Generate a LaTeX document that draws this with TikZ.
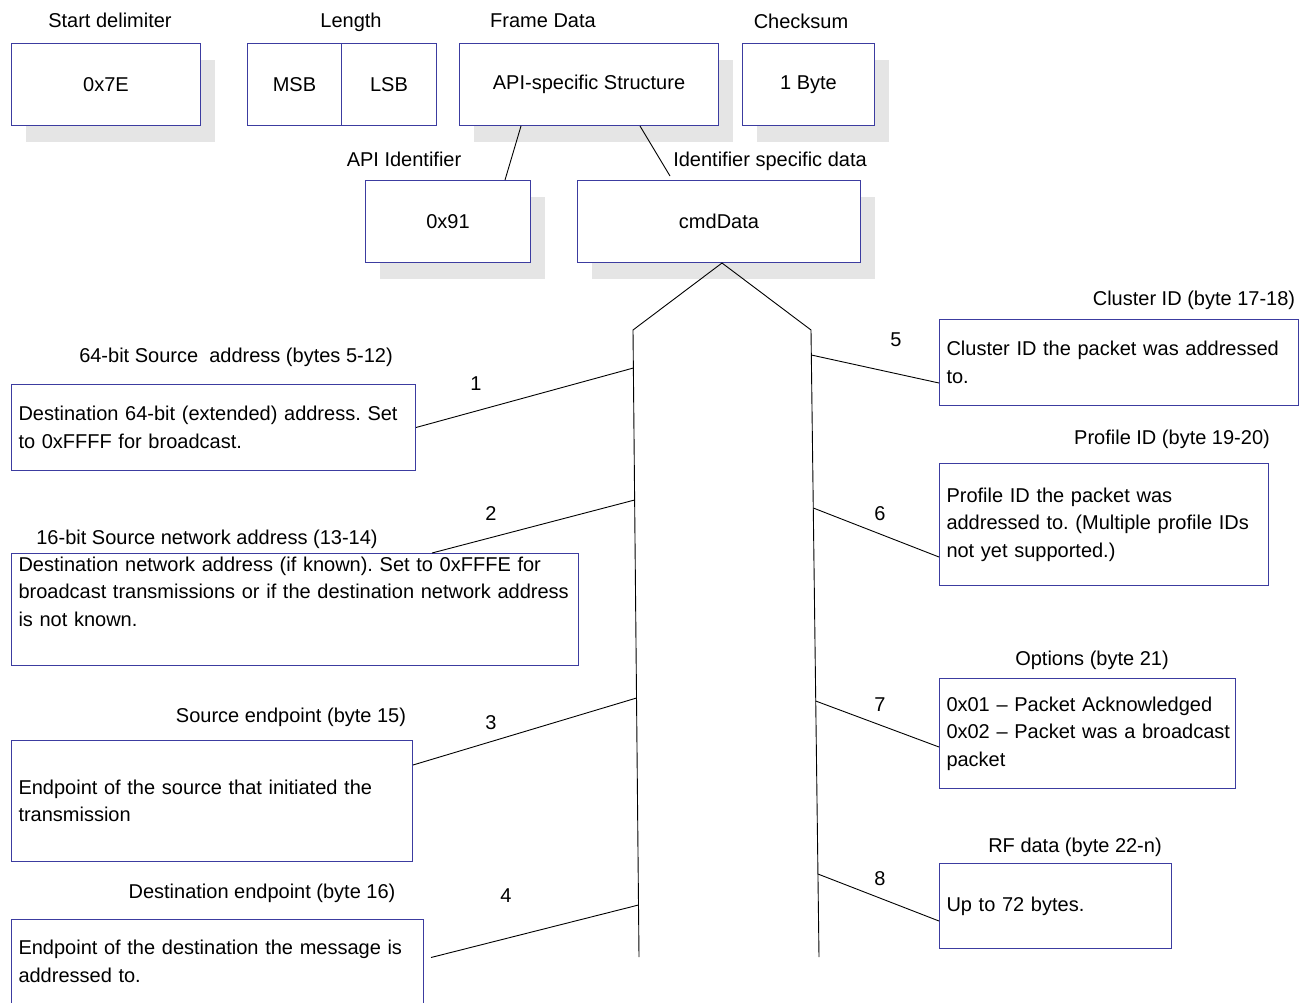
\documentclass[tikz,border=0pt]{standalone}
\usepackage{fontspec}
\setmainfont{Liberation Sans}
\usetikzlibrary{shadows, positioning}
\definecolor{cblue}{HTML}{3C3CA0}
\definecolor{cshade}{HTML}{E5E5E5}
\frenchspacing
\tikzset{
  every picture/.style={line width=1pt},
  field/.style={draw=cblue, fill=white, anchor=north west, minimum height=82pt, inner sep=0pt},
  shaded/.style={drop shadow={shadow xshift=14pt, shadow yshift=-16pt, fill=cshade, opacity=1}},
  desc/.style={draw=cblue, fill=white, anchor=north west, align=left, inner xsep=7pt, inner ysep=0pt},
  lbl/.style={anchor=base, inner sep=0pt},
  link/.style={draw=black, line width=0.9pt},
}
\begin{document}
\begin{tikzpicture}[x=1pt, y=-1pt, font=\fontsize{20}{27.5}\selectfont]
  \useasboundingbox (0,0) rectangle (1299,1002);
  \node[field, shaded, minimum width=189pt] (delim) at (11,43) {0x7E};
  \node[lbl] (delimlbl) at (110,27) {Start delimiter};
  \node[field, minimum width=94pt] (msb) at (247,43) {MSB};
  \node[field, minimum width=95pt] (lsb) at (341,43) {LSB};
  \node[lbl] (lenlbl) at (351,27) {Length};
  \node[field, shaded, minimum width=259pt] (frame) at (459,43) {API-specific Structure};
  \node[lbl] (framelbl) at (543,27) {Frame Data};
  \node[field, shaded, minimum width=132pt] (chk) at (742,43) {1 Byte};
  \node[lbl] (chklbl) at (801,28) {Checksum};
  \node[field, shaded, minimum width=165pt] (apiid) at (365,180) {0x91};
  \node[lbl] (apilbl) at (404,166) {API Identifier};
  \node[field, shaded, minimum width=283pt] (cmd) at (577,180) {cmdData};
  \node[lbl] (cmdlbl) at (770,166) {Identifier specific data};
  \draw[link] ([xshift=62pt]frame.south west) -- ([xshift=140pt]apiid.north west);
  \draw[link] ([xshift=181pt]frame.south west) -- ([xshift=93pt,yshift=4pt]cmd.north west);

  \coordinate (peak) at (722,263);
  \draw[link] (639,957) -- (633,330) -- (peak) -- (811,330) -- (819,957);
  \coordinate (s1) at (633.4,368);
  \coordinate (s2) at (634.6,500);
  \coordinate (s3) at (636.5,698);
  \coordinate (s4) at (638.5,905);
  \coordinate (s5) at (811.3,355);
  \coordinate (s6) at (813.3,508);
  \coordinate (s7) at (815.7,701);
  \coordinate (s8) at (817.9,874);

  \node[desc, text width=390pt, minimum height=86pt] (src64) at (11,384) {Destination 64-bit (extended) address. Set\\to 0xFFFF for broadcast.};
  \node[lbl] (src64lbl) at (236,362) {64-bit Source~ address (bytes 5-12)};
  \node[desc, text width=553pt, minimum height=112pt] (nwk) at (11,553) {\mbox{Destination network address (if known). Set to 0xFFFE for}\\\mbox{broadcast transmissions or if the destination network address}\\is not known.\\\strut};
  \node[lbl] (nwklbl) at (207,544) {16-bit Source network address (13-14)};
  \node[desc, text width=387pt, minimum height=121pt] (srcep) at (11,740) {Endpoint of the source that initiated the\\transmission};
  \node[lbl] (srceplbl) at (291,722) {Source endpoint (byte 15)};
  \node[desc, text width=398pt, minimum height=84pt] (dstep) at (11,919) {\mbox{Endpoint of the destination the message is}\\addressed to.};
  \node[lbl] (dsteplbl) at (262,898) {Destination endpoint (byte 16)};

  \node[desc, text width=345pt, minimum height=86pt] (clus) at (939,319) {Cluster ID the packet was addressed\\to.};
  \node[lbl] (cluslbl) at (1194,305) {Cluster ID (byte 17-18)};
  \node[desc, text width=315pt, minimum height=122pt] (prof) at (939,463) {Profile ID the packet was\\\mbox{addressed to. (Multiple profile IDs}\\not yet supported.)};
  \node[lbl] (proflbl) at (1172,444) {Profile ID (byte 19-20)};
  \node[desc, text width=282pt, minimum height=110pt] (opts) at (939,678) {\mbox{0x01 – Packet Acknowledged}\\\mbox{0x02 – Packet was a broadcast}\\packet};
  \node[lbl] (optslbl) at (1092,665) {Options (byte 21)};
  \node[desc, text width=218pt, minimum height=85pt] (rf) at (939,863) {Up to 72 bytes.};
  \node[lbl] (rflbl) at (1075,852) {RF data (byte 22-n)};

  \node[lbl] (n1) at (476,390) {1};
  \node[lbl] (n2) at (491,520) {2};
  \node[lbl] (n3) at (491,729) {3};
  \node[lbl] (n4) at (506,902) {4};
  \node[lbl] (n5) at (896,346) {5};
  \node[lbl] (n6) at (880,520) {6};
  \node[lbl] (n7) at (880,711) {7};
  \node[lbl] (n8) at (880,885) {8};

  \draw[link] (src64.east) -- (s1);
  \draw[link] ([xshift=421pt]nwk.north west) -- (s2);
  \draw[link] ([yshift=-25pt]srcep.north east) -- (s3);
  \draw[link] ([xshift=7pt,yshift=4pt]dstep.east) -- (s4);
  \draw[link] (s5) -- ([yshift=-64pt]clus.north west);
  \draw[link] (s6) -- ([yshift=-94pt]prof.north west);
  \draw[link] (s7) -- ([yshift=-69pt]opts.north west);
  \draw[link] (s8) -- ([yshift=-58pt]rf.north west);
\end{tikzpicture}
\end{document}
